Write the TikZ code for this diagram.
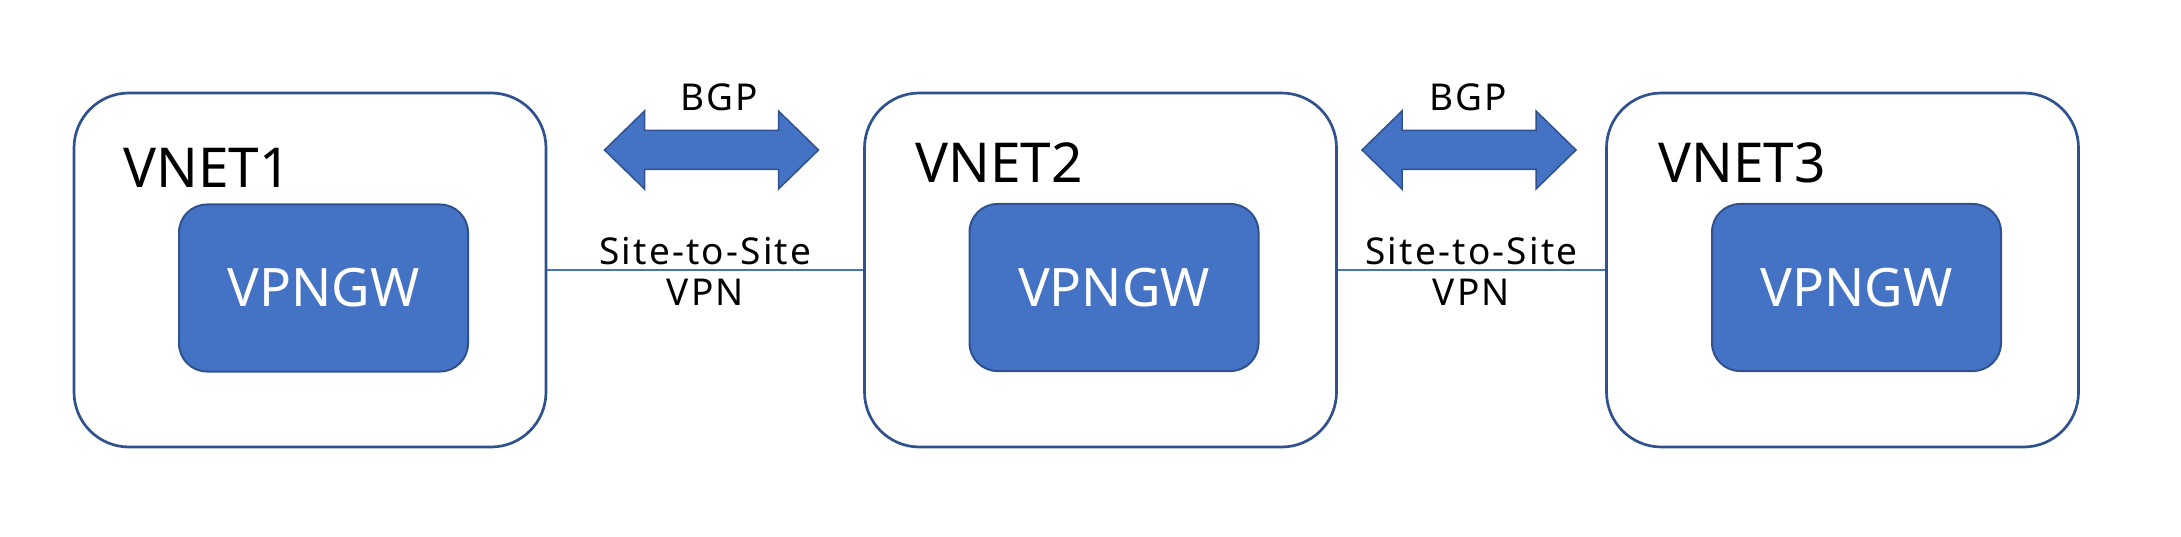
\documentclass[tikz,border=0pt]{standalone}
\usepackage{fontspec}
\setmainfont{Noto Sans}
\newfontfamily\lblfont{Noto Sans}[LetterSpace=6]
\usepackage{tikz}
\definecolor{gwblue}{HTML}{4472C4}
\definecolor{gwedge}{HTML}{2F528F}

\begin{document}
\begin{tikzpicture}[x=1pt,y=-1pt]
\tikzstyle{vnet}=[draw=gwedge,line width=2.7,fill=white,rounded corners=55,minimum width=472,minimum height=354]
\tikzstyle{gw}=[draw=gwedge,line width=2,fill=gwblue,rounded corners=28,minimum width=289,minimum height=167,text=white,font=\fontsize{53}{60}\selectfont]
\tikzstyle{vnettitle}=[anchor=base west,inner sep=0,font=\fontsize{55}{62}\selectfont]
\tikzstyle{lbl}=[text=black,font=\lblfont\fontsize{37}{42}\selectfont]
\tikzstyle{bgp}=[draw=gwedge,line width=1.5,fill=gwblue]
\useasboundingbox (0,0) rectangle (2181,537);

\node[vnet] (V1) at (310,270) {};
\node[vnet] (V2) at (1100.5,270) {};
\node[vnet] (V3) at (1842.5,270) {};
\node[vnettitle] (N1) at (123,188) {VNET1};
\node[vnettitle] (N2) at (915,183) {VNET2};
\node[vnettitle] (N3) at (1658,183) {VNET3};
\node[gw] (G1) at (323.5,288) {VPNGW};
\node[gw] (G2) at (1114,287.5) {VPNGW};
\node[gw] (G3) at (1856.5,287.5) {VPNGW};

\draw[gwblue,line width=1.2] (V1.east) -- (V2.west)
  node[lbl,midway,above=1] {Site-to-Site} node[lbl,midway,below=5] {VPN};
\draw[gwblue,line width=1.2] (V2.east) -- (V3.west)
  node[lbl,midway,above=1] {Site-to-Site} node[lbl,midway,below=5] {VPN};

% BGP arrows
\foreach \cx/\tx in {711.5/719,1469/1468}{
\draw[bgp] (\cx-107,150) -- ++(40,-39) -- ++(0,19.5) -- ++(134,0) -- ++(0,-19.5)
  -- ++(40,39) -- ++(-40,39) -- ++(0,-19.5) -- ++(-134,0) -- ++(0,19.5) -- cycle;
\node[lbl,anchor=base,inner sep=0] at (\tx,111) {BGP};
}
\end{tikzpicture}
\end{document}
